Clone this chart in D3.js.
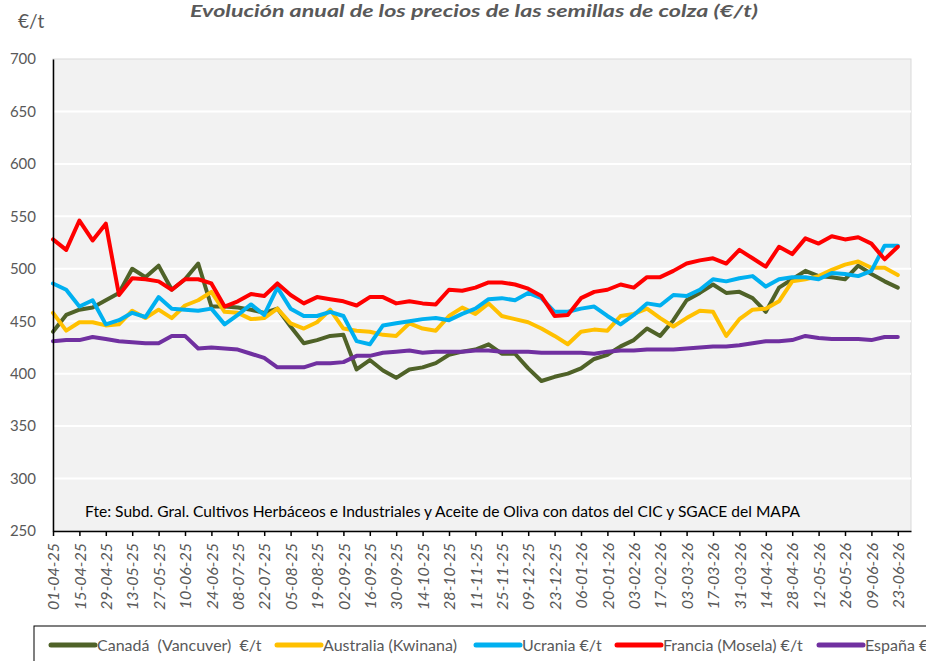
<!DOCTYPE html>
<html>
<head>
<meta charset="utf-8">
<script src="https://cdn.jsdelivr.net/npm/d3@7"></script>
<style>
  body { margin: 0; background: #fff; }
  svg { display: block; font-family: Lato, "Open Sans", sans-serif; }
</style>
</head>
<body>
<div id="chart"></div>
<script>
// weekly prices, starting 01-04-25
const startDate = "2025-04-01";
const tickLabels = ["01-04-25", "15-04-25", "29-04-25", "13-05-25", "27-05-25", "10-06-25", "24-06-25",
  "08-07-25", "22-07-25", "05-08-25", "19-08-25", "02-09-25", "16-09-25", "30-09-25", "14-10-25",
  "28-10-25", "11-11-25", "25-11-25", "09-12-25", "23-12-25", "06-01-26", "20-01-26", "03-02-26",
  "17-02-26", "03-03-26", "17-03-26", "31-03-26", "14-04-26", "28-04-26", "12-05-26", "26-05-26",
  "09-06-26", "23-06-26"];
const yTicks = [250, 300, 350, 400, 450, 500, 550, 600, 650, 700];

const canada = [440, 456, 461, 463, 470, 477, 500, 492, 503, 480, 490, 505, 464, 464, 463, 461, 458, 462, 445, 429,
  432, 436, 437, 404, 413, 403, 396, 404, 406, 410, 418, 421, 423, 428, 419, 419, 405, 393, 397, 400,
  405, 414, 418, 426, 432, 443, 436, 451, 470, 477, 485, 477, 478, 472, 459, 482, 490, 498, 493, 492,
  490, 503, 495, 488, 482];
const australia = [458, 441, 449, 449, 446, 447, 460, 453, 461, 453, 465, 470, 478, 459, 458, 452, 453, 462, 448, 443,
  449, 461, 443, 441, 440, 437, 436, 448, 443, 441, 455, 463, 457, 467, 455, 452, 449, 443, 436, 428,
  440, 442, 441, 455, 457, 462, 453, 445, 453, 460, 459, 436, 452, 461, 462, 469, 488, 490, 493, 499,
  504, 507, 501, 501, 494];
const ucrania = [486, 480, 464, 470, 447, 451, 458, 454, 473, 462, 461, 460, 462, 447, 456, 466, 456, 482, 462, 455,
  455, 459, 455, 431, 428, 446, 448, 450, 452, 453, 451, 457, 462, 471, 472, 470, 477, 472, 459, 459,
  462, 464, 455, 447, 456, 467, 465, 475, 474, 480, 490, 488, 491, 493, 483, 490, 492, 492, 490, 496,
  495, 493, 498, 522, 522];
const francia = [528, 518, 546, 527, 543, 475, 491, 490, 488, 480, 490, 490, 486, 464, 469, 476, 474, 486, 475, 467,
  473, 471, 469, 465, 473, 473, 467, 469, 467, 466, 480, 479, 482, 487, 487, 485, 481, 474, 455, 456,
  472, 478, 480, 485, 482, 492, 492, 498, 505, 508, 510, 505, 518, 510, 502, 521, 514, 529, 524, 531,
  528, 530, 524, 509, 521];
const espana = [431, 432, 432, 435, 433, 431, 430, 429, 429, 436, 436, 424, 425, 424, 423, 419, 415, 406, 406, 406,
  410, 410, 411, 417, 417, 420, 421, 422, 420, 421, 421, 421, 422, 422, 421, 421, 421, 420, 420, 420,
  420, 419, 421, 422, 422, 423, 423, 423, 424, 425, 426, 426, 427, 429, 431, 431, 432, 436, 434, 433,
  433, 433, 432, 435, 435];

const seriesNames = ["Canadá  (Vancuver)  €/t", "Australia (Kwinana)", "Ucrania €/t", "Francia (Mosela) €/t", "España €/t"];
const seriesColors = ["#4F6228", "#FFC000", "#00B0F0", "#FF0000", "#7030A0"];
const seriesValues = [canada, australia, ucrania, francia, espana];

const width = 926;
const height = 661;
const margin = ({top: 59, right: 15, bottom: 130, left: 53});
const parseStart = d3.utcParse("%Y-%m-%d");
const parseLabel = d3.utcParse("%d-%m-%y");
const start = parseStart(startDate);

const svg = d3.create("svg")
    .attr("width", width)
    .attr("height", height);

svg.append("rect").attr("width", width).attr("height", height).attr("fill", "#fff");

const xScale = d3.scaleUtc()
    .domain([start, d3.utcDay.offset(start, 455)])
    .range([margin.left, width - margin.right]);

const yScale = d3.scaleLinear()
    .domain([250, 700])
    .range([height - margin.bottom, margin.top]);

// plot area
svg.append("rect")
    .attr("x", margin.left)
    .attr("y", margin.top)
    .attr("width", width - margin.right - margin.left)
    .attr("height", height - margin.bottom - margin.top)
    .attr("fill", "#F2F2F2")
    .attr("stroke", "#D9D9D9");

// gridlines
svg.append("g")
    .selectAll("line")
    .data(yTicks.filter(d => d > 250 && d < 700))
    .join("line")
    .attr("x1", margin.left)
    .attr("x2", width - margin.right)
    .attr("y1", d => yScale(d))
    .attr("y2", d => yScale(d))
    .attr("stroke", "#fff")
    .attr("stroke-width", 2);

// source note
svg.append("text")
    .attr("x", 85)
    .attr("y", 517)
    .attr("font-size", 15.5)
    .attr("fill", "#000")
    .attr("textLength", 715)
    .attr("lengthAdjust", "spacingAndGlyphs")
    .text("Fte: Subd. Gral. Cultivos Herbáceos e Industriales y Aceite de Oliva con datos del CIC y SGACE del MAPA");

// lines
const line = d3.line()
    .x((d, i) => xScale(d3.utcDay.offset(start, 7 * i)))
    .y(d => yScale(d));

svg.append("g")
    .selectAll("path")
    .data(seriesValues)
    .join("path")
    .attr("d", d => line(d))
    .attr("fill", "none")
    .attr("stroke", (d, i) => seriesColors[i])
    .attr("stroke-width", 4)
    .attr("stroke-linejoin", "round")
    .attr("stroke-linecap", "round");

// y axis
const yAxis = svg.append("g")
    .attr("transform", `translate(${margin.left},0)`)
    .call(d3.axisLeft(yScale).tickValues(yTicks).tickSize(0).tickPadding(17));
yAxis.select(".domain").attr("stroke", "#000").attr("stroke-width", 1.5);
yAxis.selectAll("text")
    .attr("font-family", "Lato, sans-serif")
    .attr("font-size", 15)
    .attr("fill", "#595959");

// x axis
const xAxis = svg.append("g")
    .attr("transform", `translate(0,${height - margin.bottom})`)
    .call(d3.axisBottom(xScale)
        .tickValues(tickLabels.map(parseLabel))
        .tickFormat(d3.utcFormat("%d-%m-%y"))
        .tickSize(5)
        .tickSizeOuter(0));
xAxis.select(".domain").attr("stroke", "#000").attr("stroke-width", 1.5);
xAxis.selectAll(".tick line").attr("stroke", "#000").attr("stroke-width", 1.5);
xAxis.selectAll("text")
    .attr("font-family", "Lato, sans-serif")
    .attr("font-size", 16)
    .attr("font-style", "italic")
    .attr("fill", "#595959")
    .attr("text-anchor", "end")
    .attr("transform", "rotate(-90)")
    .attr("x", -12)
    .attr("y", 0)
    .attr("dy", "0.35em");

// title and unit
svg.append("text")
    .attr("x", 474)
    .attr("y", 17)
    .attr("text-anchor", "middle")
    .attr("font-size", 17)
    .attr("font-weight", "bold")
    .attr("font-style", "italic")
    .attr("fill", "#595959")
    .attr("textLength", 568)
    .attr("lengthAdjust", "spacingAndGlyphs")
    .text("Evolución anual de los precios de las semillas de colza (€/t)");

svg.append("text")
    .attr("x", 18)
    .attr("y", 28)
    .attr("font-size", 19)
    .attr("fill", "#595959")
    .text("€/t");

// legend
svg.append("rect")
    .attr("x", 34)
    .attr("y", 626)
    .attr("width", 1000)
    .attr("height", 60)
    .attr("fill", "#fff")
    .attr("stroke", "#000");

const legendX = [51, 277, 476, 617, 819];
const legend = svg.append("g")
    .selectAll("g")
    .data(seriesNames)
    .join("g")
    .attr("transform", (d, i) => `translate(${legendX[i]},645)`);
legend.append("line")
    .attr("x1", 0).attr("x2", 44)
    .attr("stroke", (d, i) => seriesColors[i])
    .attr("stroke-width", 5)
    .attr("stroke-linecap", "round");
legend.append("text")
    .attr("x", 46)
    .attr("dy", "0.35em")
    .attr("font-size", 16)
    .attr("fill", "#595959")
    .style("white-space", "pre")
    .text(d => d);

document.getElementById("chart").appendChild(svg.node());
</script>
</body>
</html>
